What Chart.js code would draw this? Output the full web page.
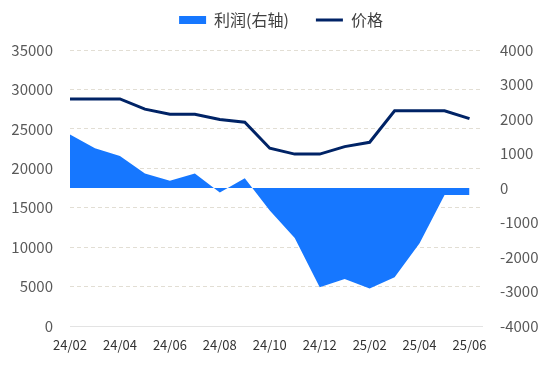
<!DOCTYPE html>
<html>
<head>
<meta charset="utf-8">
<script src="https://cdn.jsdelivr.net/npm/chart.js@4.4.1/dist/chart.umd.min.js"></script>
<style>
  html, body { margin: 0; padding: 0; background: #fff; }
  #wrap { width: 550px; height: 366px; }
</style>
</head>
<body>
<div id="wrap"><canvas id="mainChart"></canvas></div>
<script>
'use strict'
// months 24/02 .. 25/06
const months = ['24/02', '24/03', '24/04', '24/05', '24/06', '24/07', '24/08', '24/09', '24/10',
  '24/11', '24/12', '25/01', '25/02', '25/03', '25/04', '25/05', '25/06'];
// 价格 (left axis)
const price = [28800, 28800, 28800, 27500, 26850, 26850, 26200, 25850, 22550,
  21800, 21800, 22750, 23300, 27300, 27300, 27300, 26300];
// 利润 (right axis)
const profit = [1550, 1150, 930, 420, 210, 420, -130, 280, -650,
  -1450, -2880, -2640, -2910, -2590, -1600, -200, -200];
const leftTicks = [0, 35000, 5000];
const rightTicks = [-4000, 4000, 1000];

{
  const font = 'Noto Sans CJK SC, Noto Sans, sans-serif';

  const legendMargin = {
    id: 'legendMargin',
    beforeInit(chart) {
      const fit = chart.legend.fit;
      chart.legend.fit = function () {
        fit.bind(chart.legend)();
        this.height += 12;
      };
    },
  };

  const ctx = document.getElementById('mainChart').getContext('2d');
  const data = {
    datasets: [{
      label: '利润(右轴)',
      data: profit.map((v, i) => ({ x: i, y: v })),
      yAxisID: 'y1',
      backgroundColor: '#1677ff',
      borderColor: '#1677ff',
      borderWidth: 0,
      pointRadius: 0,
      fill: 'origin',
      pointStyle: 'rect',
      order: 1,
    }, {
      label: '价格',
      data: price.map((v, i) => ({ x: i, y: v })),
      yAxisID: 'y',
      borderColor: '#002366',
      backgroundColor: '#002366',
      borderWidth: 3,
      pointRadius: 0,
      fill: false,
      pointStyle: 'line',
      order: 0,
    }],
  };

  const options = {
    animation: false,
    responsive: true,
    maintainAspectRatio: false,
    layout: { padding: { top: -15, left: 12, right: 0, bottom: 0 } },
    plugins: {
      tooltip: { enabled: false },
      legend: {
        position: 'top',
        labels: {
          usePointStyle: true,
          pointStyleWidth: 27,
          boxHeight: 8,
          padding: 27,
          color: '#404040',
          font: { family: font, size: 16 },
          sort: (a, b) => a.datasetIndex - b.datasetIndex,
        },
      },
    },
    scales: {
      x: {
        type: 'linear',
        min: 0,
        max: 16.5,
        grid: { display: false, drawTicks: false },
        border: { display: true, color: '#e3e3e3', width: 1 },
        ticks: {
          stepSize: 2,
          includeBounds: false,
          padding: 11,
          maxRotation: 0,
          color: '#333333',
          font: { family: font, size: 13 },
          callback: (v) => months[v] ?? null,
        },
        afterFit: (s) => { s.height = 40; },
      },
      y: {
        position: 'left',
        min: leftTicks[0],
        max: leftTicks[1],
        grid: {
          drawTicks: false,
          color: (c) => c.tick && c.tick.value === 0 ? 'rgba(0,0,0,0)' : '#e2ded4',
        },
        border: { display: false, dash: [4, 3] },
        ticks: {
          stepSize: leftTicks[2],
          padding: 17,
          color: '#595959',
          font: { family: font, size: 15 },
          callback: (v) => String(v),
        },
        afterFit: (s) => { s.width = 58; },
      },
      y1: {
        position: 'right',
        min: rightTicks[0],
        max: rightTicks[1],
        grid: { display: false, drawTicks: false },
        border: { display: false },
        ticks: {
          stepSize: rightTicks[2],
          padding: 18,
          color: '#595959',
          font: { family: font, size: 15 },
          callback: (v) => String(v),
        },
        afterFit: (s) => { s.width = 68; },
      },
    },
  };

  new Chart(ctx, {
    type: 'line',
    data: data,
    options: options,
    plugins: [legendMargin],
  });
}
</script>
</body>
</html>
